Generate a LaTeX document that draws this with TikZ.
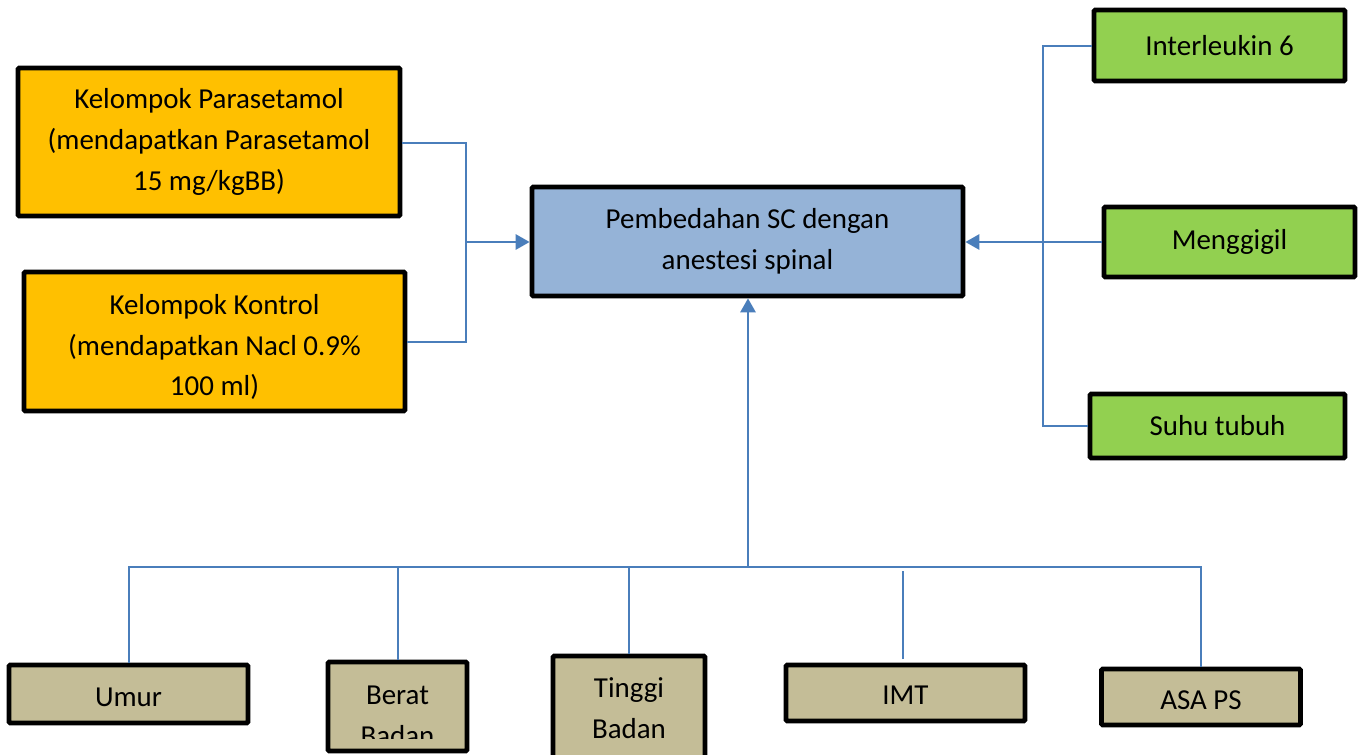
\documentclass[tikz,border=0pt]{standalone}
\usepackage{fontspec}
\setmainfont{Carlito}
\usetikzlibrary{arrows.meta}
\definecolor{orangebox}{HTML}{FFC000}
\definecolor{bluebox}{HTML}{95B3D7}
\definecolor{greenbox}{HTML}{92D050}
\definecolor{tanbox}{HTML}{C4BD97}
\definecolor{conn}{HTML}{4A7EBB}
\tikzset{
  box/.style={draw=black, line width=3.6pt, rounded corners=1pt, inner sep=0pt, align=center,
    font=\fontsize{21.7}{30.7}\selectfont},
  obox/.style={box, fill=orangebox},
  bbox/.style={box, fill=bluebox},
  gbox/.style={box, fill=greenbox},
  tbox/.style={box, fill=tanbox},
  txt/.style={inner sep=0pt, align=center, font=\fontsize{21.7}{30.7}\selectfont},
  link/.style={draw=conn, line width=1.5pt},
  arr/.style={link, -{Triangle[length=10.5pt,width=11.5pt]}},
}
\begin{document}
\begin{tikzpicture}[x=0.75pt,y=-0.75pt]
\clip (0,0) rectangle (1364,754);
\fill[white] (0,0) rectangle (1364,754);

% top left group
\node[obox, minimum width=382*0.75pt, minimum height=148*0.75pt] (para) at (209,142)
  {Kelompok Parasetamol\\(mendapatkan Parasetamol\\15 mg/kgBB)};
\node[obox, minimum width=381*0.75pt, minimum height=139*0.75pt] (kontrol) at (214.5,341.5) {};
\node[txt] (kontrolT) at (214.5,347)
  {Kelompok Kontrol\\(mendapatkan Nacl 0.9\%\\100 ml)};

% centre
\node[bbox, minimum width=431*0.75pt, minimum height=109*0.75pt] (sc) at (747.5,241.5)
  {Pembedahan SC dengan\\anestesi spinal};

% right group
\node[gbox, minimum width=251*0.75pt, minimum height=71*0.75pt] (il6) at (1219.5,45.5) {Interleukin 6};
\node[gbox, minimum width=251*0.75pt, minimum height=70*0.75pt] (gigil) at (1229.5,242) {Menggigil};
\node[gbox, minimum width=255*0.75pt, minimum height=64*0.75pt] (suhu) at (1217.5,426) {Suhu tubuh};

% bottom group
\node[tbox, minimum width=239*0.75pt, minimum height=58*0.75pt] (umur) at (128.5,694) {};
\node[txt] (umurT) at (128.5,697) {Umur};
\node[tbox, minimum width=139*0.75pt, minimum height=89*0.75pt] (berat) at (397.5,706.5) {};
\begin{scope}
  \clip (330,664) rectangle (465,738);
  \node[txt] (beratT) at (397.5,716) {Berat\\Badan};
\end{scope}
\node[tbox, minimum width=152*0.75pt, minimum height=112*0.75pt] (tinggi) at (629,712) {};
\node[txt] (tinggiT) at (629,708) {Tinggi\\Badan};
\node[tbox, minimum width=239*0.75pt, minimum height=56*0.75pt] (imt) at (905.5,693) {};
\node[txt] (imtT) at (905.5,695) {IMT};
\node[tbox, minimum width=199*0.75pt, minimum height=56*0.75pt] (asa) at (1201,697) {};
\node[txt] (asaT) at (1201,700) {ASA PS};

% left connectors
\coordinate (lj) at (466,242);
\draw[link] (para.east |- 0,143) -| (lj) |- (kontrol.east |- 0,342);
\draw[arr] (lj) -- (sc.west |- lj);

% right connectors
\coordinate (rj) at (1043,242);
\draw[link] (il6.west) -| (rj) |- (suhu.west);
\draw[arr] (gigil.west) -- (sc.east |- gigil.west);

% bottom connectors
\coordinate (bj) at (748,567);
\draw[arr] (bj) -- (sc.south -| bj);
\draw[link] (umur.north) |- (bj);
\draw[link] (asa.north) |- (bj);
\draw[link] (berat.north) -- (berat.north |- bj);
\draw[link] (tinggi.north) -- (tinggi.north |- bj);
\draw[link] (903,659) -- (903,571);
\end{tikzpicture}
\end{document}
